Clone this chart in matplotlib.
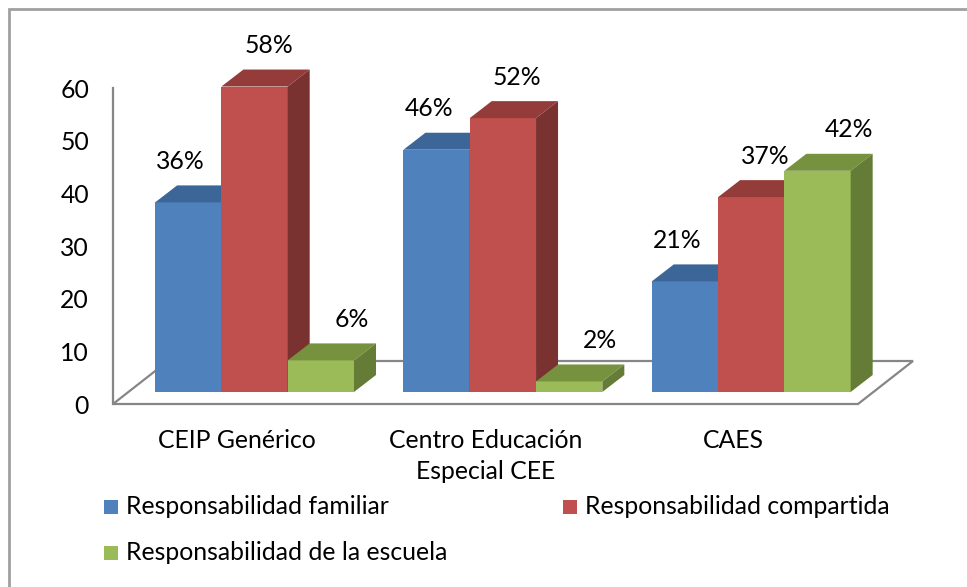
import matplotlib.pyplot as plt
from matplotlib.patches import Polygon, Rectangle

plt.rcParams['font.family'] = ['Lato', 'DejaVu Sans']

categories = ['CEIP Genérico', 'Centro Educación\nEspecial CEE', 'CAES']
series = ['Responsabilidad familiar', 'Responsabilidad compartida',
          'Responsabilidad de la escuela']
familiar = [36, 46, 21]
compartida = [58, 52, 37]
escuela = [6, 2, 42]
yticks = [0, 10, 20, 30, 40, 50, 60]

front_cols = ['#4F81BD', '#C0504D', '#9BBB59']
top_cols = ['#3D6698', '#943C3A', '#77923F']
side_cols = ['#2F5280', '#7A3231', '#657C37']
grey = '#868686'
fs = 17.8

W, H = 967, 587
fig = plt.figure(figsize=(W / 100, H / 100), dpi=100)
# plot area: x 0..3 -> px 113..858, y 0..60 -> px 404..88
ax = fig.add_axes([113 / W, (H - 404) / H, 745 / W, 316 / H])
ax.set_xlim(0, 3)
ax.set_ylim(0, 60)
ax.axis('off')

px_x = 745 / 3
px_y = 316 / 60

# floor depth and bar depth in data units
fdx, fdy = 55 / px_x, 43 / px_y
bdx, bdy = 22 / px_x, 17 / px_y
base = 12 / px_y
bar_w = 66.3 / px_x

floor = Polygon([(0, 0), (3, 0), (3 + fdx, fdy), (fdx, fdy)], closed=True,
                facecolor='white', edgecolor=grey, lw=1.6, clip_on=False, zorder=1)
ax.add_patch(floor)
ax.plot([0, 0], [0, 60], color=grey, lw=1.6, clip_on=False, zorder=1)

for t in yticks:
    ax.text(-24 / px_x, t - 2 / px_y, str(t), ha='right', va='center', fontsize=fs, clip_on=False)

for i, c in enumerate(categories):
    ax.text(i + 0.5, -25 / px_y, c, ha='center', va='top', fontsize=fs,
            linespacing=1.42, clip_on=False)

lab_dx = [-8, 14, 31]
data = [familiar, compartida, escuela]
z = 2
for i in range(len(categories)):
    x0 = i + 0.5 - 1.5 * bar_w + 0.07
    for j, vals in enumerate(data):
        v = vals[i]
        xl = x0 + j * bar_w
        xr = xl + bar_w
        top = base + v
        ax.bar(xl, v, width=bar_w, bottom=base, align='edge', color=front_cols[j],
               clip_on=False, zorder=z)
        ax.add_patch(Polygon([(xl, top), (xr, top), (xr + bdx, top + bdy), (xl + bdx, top + bdy)],
                             closed=True, facecolor=top_cols[j], edgecolor='none',
                             clip_on=False, zorder=z))
        ax.add_patch(Polygon([(xr, base), (xr + bdx, base + bdy), (xr + bdx, top + bdy), (xr, top)],
                             closed=True, facecolor=side_cols[j], edgecolor='none',
                             clip_on=False, zorder=z))
        z += 1
        ax.text(xl + bar_w / 2 + lab_dx[j] / px_x, top + 41 / px_y, f'{v}%',
                ha='center', va='center', fontsize=fs, clip_on=False, zorder=20)

# legend, drawn by hand in pixel positions
leg_pos = [(104, 507), (563, 507), (104, 553)]
for j, name in enumerate(series):
    lx, ly = leg_pos[j]
    fig.patches.append(Rectangle((lx / W, 1 - (ly + 7) / H), 14 / W, 14 / H,
                                 transform=fig.transFigure, facecolor=front_cols[j],
                                 edgecolor='none'))
    fig.text((lx + 22) / W, 1 - ly / H, name, ha='left', va='center', fontsize=fs)

# chart border
fig.patches.append(Rectangle((9 / W, -0.05), 1.1, 1 - 9 / H + 0.05, transform=fig.transFigure,
                             facecolor='none', edgecolor='#A0A0A0', lw=2))

fig.savefig('out.png', dpi=100)
